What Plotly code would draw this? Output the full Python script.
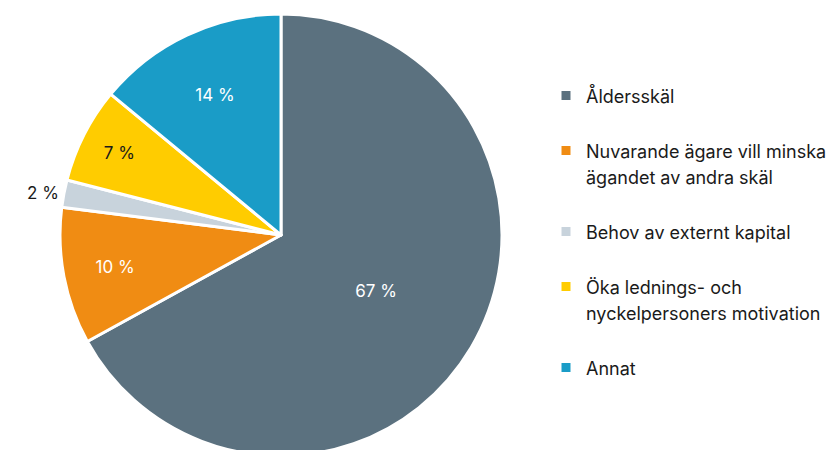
import plotly.graph_objects as go

labels = ["Åldersskäl", "Nuvarande ägare vill minska<br>ägandet av andra skäl",
          "Behov av externt kapital", "Öka lednings- och<br>nyckelpersoners motivation", "Annat"]
values = [67, 10, 2, 7, 14]
colors = ["#5b717f", "#f08c13", "#c8d3dc", "#ffcc00", "#1a9cc7"]
text_colors = ["white", "white", "#1a1a1a", "#1a1a1a", "white"]
text_positions = ["inside", "inside", "outside", "inside", "inside"]

W, H = 835, 450
LEG_FONT = 20
OFF = 8  # default body margin of the html page

legend_labels = ['<span style="font-size:18px">' + l + '</span><br> ' for l in labels]

fig = go.Figure(go.Pie(
    labels=legend_labels,
    values=values,
    sort=False,
    direction="clockwise",
    rotation=0,
    marker=dict(colors=colors, line=dict(color="white", width=3)),
    texttemplate="%{value} %",
    textposition=text_positions,
    insidetextorientation="horizontal",
    insidetextfont=dict(color=text_colors, size=17, family="Inter"),
    outsidetextfont=dict(color="#1a1a1a", size=17, family="Inter"),
    hoverinfo="label+percent",
    domain=dict(x=[(60 - OFF) / W, (502 - OFF) / W],
                y=[1 - (456 - OFF) / H, 1 - (14 - OFF) / H]),
))

fig.update_layout(
    width=W, height=H,
    margin=dict(l=0, r=0, t=0, b=0, autoexpand=False),
    paper_bgcolor="white",
    font=dict(family="Inter", color="#1a1a1a", size=16),
    showlegend=True,
    legend=dict(
        xref="paper", yref="paper",
        x=(546 - OFF) / W, xanchor="left",
        y=1 - (76 - OFF) / H, yanchor="top",
        valign="top",
        maxheight=440,
        font=dict(size=LEG_FONT, family="Inter", color="#1a1a1a"),
        bgcolor="rgba(0,0,0,0)",
    ),
)

fig.write_html("out.html")
